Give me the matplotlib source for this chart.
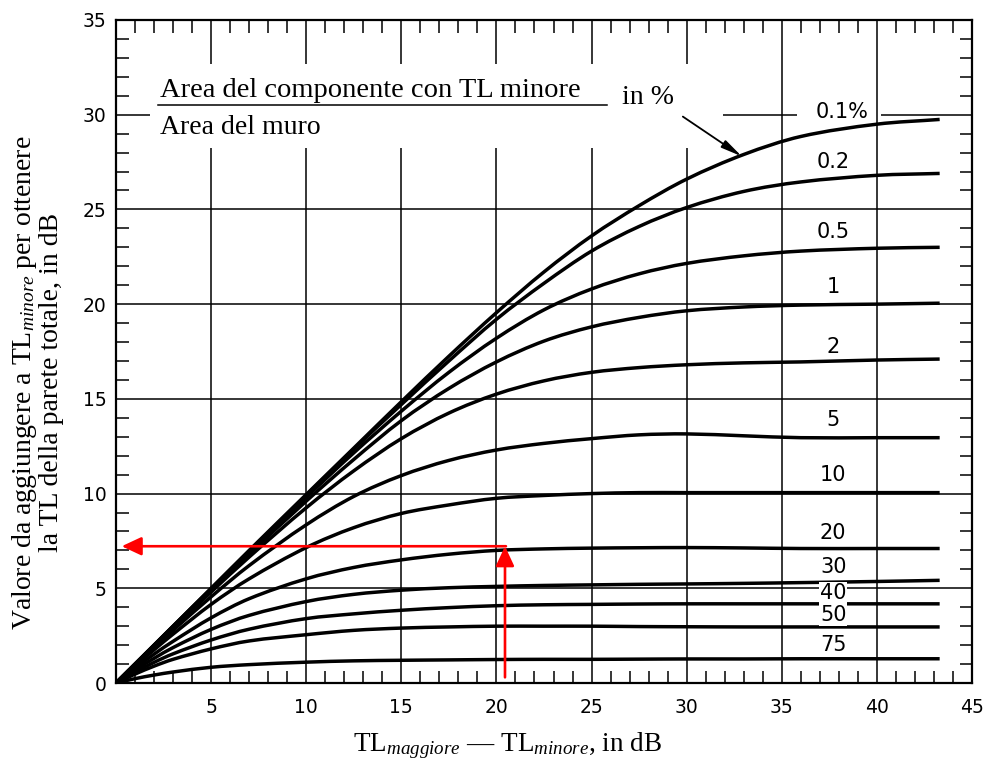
import matplotlib
matplotlib.use("Agg")
import matplotlib.pyplot as plt
from matplotlib.ticker import MultipleLocator
from matplotlib.path import Path
from matplotlib.patches import PathPatch

plt.rcParams['mathtext.fontset'] = 'custom'
plt.rcParams['mathtext.rm'] = 'Liberation Serif'
plt.rcParams['mathtext.it'] = 'Liberation Serif:italic'

# ---- data ----
diff_db = [0, 1, 2, 3, 5, 7, 10, 12.5, 15, 17.5, 20, 22.5, 25, 27.5, 30, 33, 36, 40, 43.3]

curve_labels = ['0.1%', '0.2', '0.5', '1', '2', '5', '10', '20', '30', '40', '50', '75']

p0_1 = [0, 1.0, 2.0, 3.0, 5.0, 7.0, 9.95, 12.4, 14.85, 17.25, 19.55, 21.7, 23.6, 25.2, 26.6, 27.9, 28.85, 29.5, 29.75]
p0_2 = [0, 1.0, 2.0, 3.0, 4.98, 6.95, 9.9, 12.35, 14.7, 17.0, 19.2, 21.1, 22.8, 24.1, 25.1, 25.95, 26.45, 26.8, 26.9]
p0_5 = [0, 1.0, 1.99, 2.98, 4.95, 6.9, 9.8, 12.15, 14.35, 16.4, 18.2, 19.7, 20.8, 21.6, 22.15, 22.55, 22.8, 22.95, 23.0]
p1 = [0, 0.99, 1.97, 2.95, 4.9, 6.8, 9.6, 11.8, 13.85, 15.55, 16.95, 18.05, 18.8, 19.3, 19.65, 19.85, 19.95, 20.0, 20.05]
p2 = [0, 0.98, 1.95, 2.9, 4.8, 6.65, 9.25, 11.2, 12.9, 14.25, 15.25, 15.95, 16.4, 16.65, 16.8, 16.9, 16.95, 17.05, 17.1]
p5 = [0, 0.94, 1.87, 2.78, 4.55, 6.2, 8.35, 9.85, 10.95, 11.75, 12.3, 12.65, 12.9, 13.1, 13.15, 13.05, 12.95, 12.95, 12.95]
p10 = [0, 0.89, 1.75, 2.58, 4.15, 5.5, 7.15, 8.2, 8.95, 9.4, 9.75, 9.9, 10.0, 10.05, 10.05, 10.05, 10.05, 10.05, 10.05]
p20 = [0, 0.78, 1.52, 2.2, 3.44, 4.45, 5.5, 6.1, 6.5, 6.8, 7.0, 7.08, 7.12, 7.14, 7.15, 7.13, 7.1, 7.1, 7.1]
p30 = [0, 0.68, 1.3, 1.87, 2.83, 3.57, 4.3, 4.68, 4.9, 5.03, 5.1, 5.15, 5.18, 5.21, 5.23, 5.26, 5.3, 5.36, 5.42]
p40 = [0, 0.57, 1.09, 1.54, 2.27, 2.84, 3.4, 3.65, 3.84, 3.98, 4.08, 4.13, 4.15, 4.17, 4.18, 4.18, 4.18, 4.18, 4.18]
p50 = [0, 0.47, 0.89, 1.25, 1.8, 2.22, 2.55, 2.78, 2.9, 2.96, 3.0, 3.0, 3.0, 2.98, 2.97, 2.96, 2.96, 2.96, 2.96]
p75 = [0, 0.23, 0.42, 0.58, 0.83, 0.97, 1.1, 1.17, 1.2, 1.22, 1.24, 1.25, 1.25, 1.26, 1.27, 1.27, 1.28, 1.28, 1.28]

curves = [p0_1, p0_2, p0_5, p1, p2, p5, p10, p20, p30, p40, p50, p75]

# label positions (x, y) for each curve
label_x = [36.8, 37.7, 37.7, 37.7, 37.7, 37.7, 37.7, 37.7, 37.7, 37.7, 37.7, 37.7]
label_y = [30.15, 27.5, 23.8, 20.9, 17.74, 13.9, 10.98, 7.92, 6.12, 4.75, 3.59, 2.0]

# worked example (red arrows)
example_x = 20.45
example_y = 7.22

x_ticks = [0, 5, 10, 15, 20, 25, 30, 35, 40, 45]
x_ticklabels = ['', '5', '10', '15', '20', '25', '30', '35', '40', '45']
y_ticks = [0, 5, 10, 15, 20, 25, 30, 35]


def smooth_path(xs, ys):
    """Cubic Hermite (Bezier) path through the given points, drawn in data coords."""
    n = len(xs)
    slopes = []
    for i in range(n):
        if i == 0:
            s = (ys[1] - ys[0]) / (xs[1] - xs[0])
        elif i == n - 1:
            s = (ys[-1] - ys[-2]) / (xs[-1] - xs[-2])
        else:
            s = (ys[i + 1] - ys[i - 1]) / (xs[i + 1] - xs[i - 1])
        slopes.append(s)
    verts = [(xs[0], ys[0])]
    codes = [Path.MOVETO]
    for i in range(n - 1):
        dx = (xs[i + 1] - xs[i]) / 3.0
        verts += [(xs[i] + dx, ys[i] + slopes[i] * dx),
                  (xs[i + 1] - dx, ys[i + 1] - slopes[i + 1] * dx),
                  (xs[i + 1], ys[i + 1])]
        codes += [Path.CURVE4] * 3
    return Path(verts, codes)


# ---- figure ----
fig = plt.figure(figsize=(9.88, 7.6), dpi=100)
ax = fig.add_axes([0.1174, 0.1013, 0.8664, 0.8724])
ax.set_xlim(0, 45)
ax.set_ylim(0, 35)

gl = dict(color='black', lw=1.1, zorder=1, solid_capstyle='butt')
for xv in [5, 10, 15, 20, 25, 30]:
    ax.plot([xv, xv], [0, 28.25], **gl)
    ax.plot([xv, xv], [32.7, 35], **gl)
for xv in [35, 40]:
    ax.plot([xv, xv], [0, 35], **gl)
for yv in [5, 10, 15, 20, 25]:
    ax.plot([0, 45], [yv, yv], **gl)
for seg in [(0, 1.8), (31.9, 35.8), (40.2, 45)]:
    ax.plot(seg, [30, 30], **gl)

for c in curves:
    ax.add_patch(PathPatch(smooth_path(diff_db, c), facecolor='none', edgecolor='black',
                           lw=2.5, zorder=3, joinstyle='round', capstyle='butt'))

for i, lab in enumerate(curve_labels):
    ax.text(label_x[i], label_y[i], lab, ha='left' if i == 0 else 'center', va='center',
            fontsize=15, family='DejaVu Sans', zorder=4,
            bbox=dict(facecolor='white', edgecolor='none', pad=0.5))

# ratio text
serif = 'Liberation Serif'
ax.text(2.3, 31.3, 'Area del componente con TL minore', ha='left', va='center',
        fontsize=20.5, family=serif, zorder=4)
ax.plot([2.2, 25.8], [30.5, 30.5], color='black', lw=1.1, zorder=4)
ax.text(2.3, 29.3, 'Area del muro', ha='left', va='center', fontsize=20, family=serif, zorder=4)
ax.text(26.6, 30.9, 'in %', ha='left', va='center', fontsize=20, family=serif, zorder=4)

ax.annotate('', xy=(32.9, 27.8), xytext=(29.8, 29.9),
            arrowprops=dict(arrowstyle='-|>,head_length=0.9,head_width=0.18', lw=1.3,
                            color='black', mutation_scale=14, shrinkA=0, shrinkB=0),
            zorder=5)

# red arrows
red = '#ff0000'
ax.annotate('', xy=(example_x, example_y), xytext=(example_x, 0.3),
            arrowprops=dict(arrowstyle='-|>,head_length=0.6,head_width=0.28', lw=1.9,
                            color=red, mutation_scale=20, shrinkA=0, shrinkB=0), zorder=6)
ax.annotate('', xy=(0.3, example_y), xytext=(example_x + 0.05, example_y),
            arrowprops=dict(arrowstyle='-|>,head_length=0.6,head_width=0.28', lw=1.9,
                            color=red, mutation_scale=20, shrinkA=0, shrinkB=0), zorder=6)

# ticks
ax.set_xticks(x_ticks)
ax.set_xticklabels(x_ticklabels)
ax.set_yticks(y_ticks)
ax.xaxis.set_minor_locator(MultipleLocator(1))
ax.yaxis.set_minor_locator(MultipleLocator(1))
ax.tick_params(which='major', length=0, labelsize=13.5)
ax.tick_params(axis='x', which='major', pad=11)
ax.tick_params(axis='y', which='major', pad=7)
ax.tick_params(which='minor', direction='in', length=9, width=1.1,
               top=True, right=True, bottom=True, left=True)
for t in ax.get_xticklabels() + ax.get_yticklabels():
    t.set_family('DejaVu Sans')
for s in ax.spines.values():
    s.set_linewidth(1.6)

fig.text(0.5135, 0.0195, r'TL$_{\mathit{maggiore}}$ — TL$_{\mathit{minore}}$, in dB',
         ha='center', va='center', fontsize=19.5, family=serif)
fig.text(0.0375, 0.497, 'Valore da aggiungere a TL$_{\\mathit{minore}}$ per ottenere\n'
         'la TL della parete totale, in dB',
         ha='center', va='center', rotation=90, fontsize=20, family=serif,
         linespacing=1.0, multialignment='center')

fig.savefig('out.png', dpi=100)
